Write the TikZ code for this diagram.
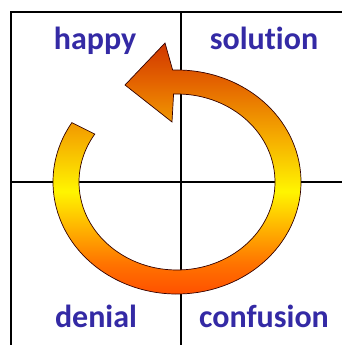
\documentclass[tikz,border=0pt]{standalone}
\usepackage{fontspec}
\setmainfont[Ligatures={NoCommon}]{Carlito}
\usetikzlibrary{calc}
\definecolor{labelblue}{RGB}{52,42,165}
\definecolor{sA}{RGB}{255,62,0}
\definecolor{sB}{RGB}{255,115,0}
\definecolor{sC}{RGB}{255,245,0}
\definecolor{sD}{RGB}{245,170,0}
\definecolor{sE}{RGB}{228,100,0}
\definecolor{sF}{RGB}{208,55,0}
\pgfdeclareverticalshading{ringshade}{100bp}{color(0bp)=(sA); color(25bp)=(sA); color(33.6bp)=(sB); color(47.2bp)=(sC); color(57.6bp)=(sD); color(67.6bp)=(sE); color(75bp)=(sF); color(100bp)=(sF)}
\tikzset{
  lbl/.style={text=labelblue, font=\fontsize{32}{36}\selectfont\bfseries, inner sep=0pt, anchor=base},
  gridline/.style={black, line width=1.1pt},
  framelines/.style={black, line width=2.6pt},
}
\begin{document}
\begin{tikzpicture}[x=1pt,y=1pt]
\useasboundingbox (0,0) rectangle (342,345);
\fill[white] (0,0) rectangle (342,345);
% grid
\coordinate (tl) at (11,333);
\coordinate (tr) at (342,333);
\coordinate (bl) at (11,0);
\coordinate (vt) at (181,333);
\coordinate (vb) at (181,0);
\coordinate (hl) at (11,163);
\coordinate (hr) at (342,163);
\draw[gridline] (vt) -- (vb);
\draw[gridline] (hl) -- (hr);
\draw[framelines] (bl) -- (tl) -- (tr);
% ring arrow
\coordinate (c) at (177,163);
\coordinate (tip) at (125,260);
\coordinate (ub) at (165,302);
\coordinate (lb) at (172,223);
\path[shading=ringshade, draw=black!80!red, line width=0.7pt]
  ($(c)+(148:124 and 112)$) arc[start angle=148, end angle=452, x radius=124, y radius=112]
  -- (ub) -- (tip) -- (lb)
  -- ($(c)+(92:98 and 88)$) arc[start angle=452, end angle=147, x radius=98, y radius=88]
  -- cycle;
% labels
\node[lbl] (happy) at (95,295) {happy};
\node[lbl] (solution) at (264,295) {solution};
\node[lbl] (denial) at (96,17) {denial};
\node[lbl] (confusion) at (264,17) {confusion};
\end{tikzpicture}
\end{document}
